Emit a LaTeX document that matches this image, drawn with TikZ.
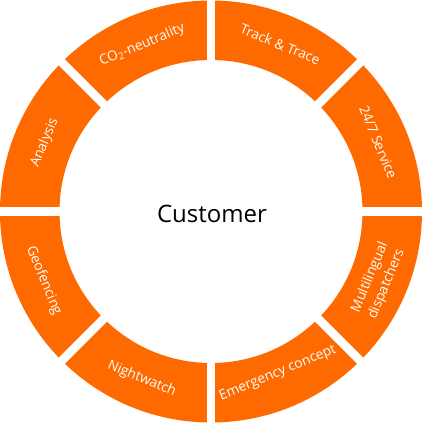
\documentclass[tikz,border=0pt]{standalone}
\usepackage{fontspec}
\setmainfont{Open Sans}
\definecolor{ring}{RGB}{255,106,0}
\begin{document}
\begin{tikzpicture}[x=0.75pt,y=0.75pt,
  seglabel/.style={text=white,font=\fontsize{10.3}{13.5}\selectfont,align=center,inner sep=0pt},
  gapline/.style={white,line width=6.5pt}]
\useasboundingbox (-211,-212.5) rectangle (212,211.5);
\fill[ring,even odd rule] (0,0) circle (211) (0,0) circle (151.5);
\foreach \a in {0,45,90,135}
  \draw[gapline] (\a:215) -- (\a+180:215);
\node[seglabel,rotate=-22.5] (track) at (67.5:181) {Track \& Trace};
\node[seglabel,rotate=22.5] (co2) at (112.5:180) {CO\textsubscript{2}-neutrality};
\node[seglabel,rotate=-67.5] (service) at (22.5:181) {24/7 Service};
\node[seglabel,rotate=67.5] (analysis) at (157.5:180) {Analysis};
\node[seglabel,rotate=-67.5] (geo) at (202.5:181) {Geofencing};
\node[seglabel,rotate=-22.5] (night) at (247.5:181) {Nightwatch};
\node[seglabel,rotate=22.5] (emerg) at (292.5:175) {Emergency concept};
\node[seglabel,rotate=67.5] (multi) at (337.5:181) {Multilingual\\dispatchers};
\node[font=\fontsize{18}{22}\selectfont] (customer) at (1,-2) {Customer};
\end{tikzpicture}
\end{document}
